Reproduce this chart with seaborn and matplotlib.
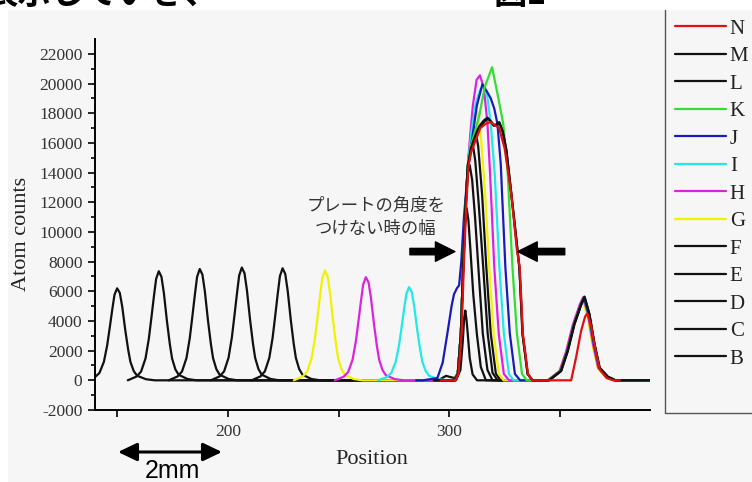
import matplotlib
matplotlib.use("Agg")
import matplotlib.pyplot as plt
from matplotlib.lines import Line2D
from matplotlib.patches import FancyArrowPatch, Rectangle
import pandas as pd
import seaborn as sns

# ---------------- data ----------------
series_names = ["B", "C", "D", "E", "F", "G", "H", "I", "J", "K", "L", "M", "N"]
series_colors = ["#111111", "#111111", "#111111", "#111111", "#111111", "#f2f200",
                 "#dd22dd", "#22e8e8", "#1a1ab8", "#33dd33", "#111111", "#111111", "#e01010"]
series_start = [140, 155, 173, 192, 210, 228, 246, 265, 285, 293, 293, 293, 296]
series_end = [340, 340, 340, 342, 345, 390.6, 390.6, 390.6, 390.6, 390.6, 390.6, 390.6, 377]

# isolated left peaks (series B..I)
side_series = ["B", "C", "D", "E", "F", "G", "H", "I"]
side_center = [150.0, 168.8, 187.3, 206.3, 224.7, 243.8, 262.3, 281.8]
side_height = [6200, 7350, 7500, 7600, 7550, 7400, 6950, 6280]
side_dx = [-14, -10, -8, -6, -4.5, -3.3, -2.2, -1.2, 0, 1.2, 2.3, 3.7, 5, 6, 7.5, 9, 13, 17]
side_ratio = [0, 0.035, 0.08, 0.2, 0.38, 0.58, 0.77, 0.93, 1, 0.95, 0.8, 0.54, 0.33, 0.2,
              0.1, 0.05, 0.012, 0]

# main cluster peaks (explicit points)
B_x = [303, 305, 306, 306.7, 307.2, 307.8, 308.3, 309.2, 310.5, 312.5]
B_y = [0, 700, 2500, 4200, 4700, 4000, 3150, 1500, 400, 0]
C_x = [302.5, 303.8, 305.2, 306.2, 307.1, 307.8, 308.6, 309.6, 310.8, 312.4, 314.2, 316.5]
C_y = [0, 430, 3150, 7600, 10500, 11600, 10800, 8600, 5800, 3150, 900, 0]
D_x = [295, 298.5, 301, 302.5, 303.8, 305.2, 306.2, 307.3, 308.4, 309.2, 310.3, 311.6, 313.1, 315.1, 317.2, 319.5]
D_y = [0, 300, 200, 150, 500, 3150, 7600, 11700, 14000, 14500, 13500, 11000, 7600, 3150, 700, 0]
E_x = [302.5, 303.8, 305.2, 306.2, 307.3, 308.3, 309.3, 310.5, 311.7, 313.2, 315.3, 317.3, 319.5, 321.8]
E_y = [0, 430, 3150, 7600, 11700, 14400, 15700, 16000, 14800, 12000, 7600, 3150, 500, 0]
F_x = [302.5, 303.8, 305.2, 306.2, 307.3, 308.3, 309.7, 311.5, 313, 314.8, 316.7, 318.7, 321, 323.2]
F_y = [0, 430, 3150, 7600, 11700, 14400, 16400, 17000, 15800, 12500, 7600, 3150, 450, 0]
G_x = [302.5, 303.8, 305.2, 306.2, 307.3, 308.3, 309.7, 311, 312.6, 314.2, 316.2, 318, 320, 322.3, 324.5]
G_y = [0, 430, 3150, 7600, 11700, 14400, 16650, 17700, 18100, 16500, 12500, 7600, 3150, 430, 0]
H_x = [302.5, 303.8, 305.2, 306.2, 307.3, 308.3, 309.5, 310.6, 312.3, 313.8, 315.6, 317.2, 318.4, 320.3, 322.3, 324.6, 327]
H_y = [0, 430, 3150, 7600, 11700, 14400, 16650, 18500, 20250, 20550, 19700, 17300, 13900, 7600, 3150, 430, 0]
I_x = [302.5, 303.8, 305.2, 306.2, 307.3, 308.3, 310, 312, 314, 315.4, 317, 318.7, 320.5, 322.6, 324.6, 326.9, 329]
I_y = [0, 430, 3150, 7600, 11700, 14400, 16800, 18700, 19600, 19800, 19300, 17300, 13900, 7600, 3150, 430, 0]
J_x = [288, 294.6, 297, 299.1, 301, 302.1, 303.4, 304.4, 305.4, 306.5, 307.8, 309, 310.8, 312.4, 314.9,
       316.8, 318.7, 320.3, 321.7, 323.2, 325.3, 327.3, 329.6, 332]
J_y = [0, 150, 1200, 3150, 5000, 5800, 6200, 6400, 8000, 10800, 13200, 15000, 16800, 18500, 19950,
       19500, 19000, 18300, 17300, 14600, 7600, 3150, 430, 0]
K_x = [302.5, 303.8, 305.2, 306.2, 307.3, 308.3, 309.7, 311.2, 313.4, 316, 319.3, 322, 324.3, 326.2,
       328.5, 330.5, 332.8, 335]
K_y = [0, 430, 3150, 7600, 11700, 14400, 15800, 16600, 17760, 19780, 21100, 19100, 17300, 14400,
       7600, 3150, 430, 0]
L_x = [302.5, 303.8, 305.2, 306.2, 307.3, 308.3, 309.7, 311.2, 313.4, 315.5, 317.2, 318.8, 320, 321.2,
       322.5, 324, 325.6, 327.5, 329.5, 331.6, 333, 335.3, 337.5]
L_y = [0, 430, 3150, 7600, 11700, 14400, 15600, 16300, 17100, 17500, 17700, 17450, 17200, 17250,
       17400, 16800, 15600, 13200, 10500, 7600, 3150, 430, 0]
M_x = [302.5, 303.9, 305.3, 306.3, 307.4, 308.4, 309.8, 311.3, 313.5, 315.6, 317.4, 318.9, 320.1, 321.4,
       322.7, 324.2, 325.8, 327.6, 329.6, 331.7, 333.1, 335.4, 337.6]
M_y = [0, 430, 3150, 7600, 11700, 14400, 15500, 16200, 17000, 17400, 17650, 17400, 17150, 17200,
       17350, 16700, 15500, 13100, 10400, 7500, 3100, 420, 0]
N_x = [302.8, 304.1, 305.5, 306.5, 307.6, 308.6, 309.9, 311.4, 314, 316.5, 318.5, 320.5, 322.5, 325,
       328, 330.5, 331.8, 333.2, 335.5, 337.5]
N_y = [0, 430, 3150, 7600, 11700, 14400, 15400, 16000, 17000, 17300, 17400, 17200, 17000, 15600,
       12500, 8800, 7600, 3150, 430, 0]
cluster_x = [B_x, C_x, D_x, E_x, F_x, G_x, H_x, I_x, J_x, K_x, L_x, M_x, N_x]
cluster_y = [B_y, C_y, D_y, E_y, F_y, G_y, H_y, I_y, J_y, K_y, L_y, M_y, N_y]

# right peak near 361
right_series = ["G", "H", "I", "J", "K", "L", "M"]
right_center = [360.2, 360.4, 360.8, 360.8, 361.0, 361.0, 361.1]
right_height = [5400, 5600, 5500, 5550, 5650, 5630, 5600]
right_dx = [-16, -10.6, -7.6, -4.6, -1.5, 0, 2.2, 4.5, 6.8, 10.5, 14]
right_ratio = [0, 0.112, 0.352, 0.673, 0.913, 1, 0.792, 0.432, 0.151, 0.043, 0]
N_right_x = [355, 357.2, 359.5, 361.3, 362.3, 364, 366, 368, 371, 374]
N_right_y = [0, 1530, 3330, 4300, 4500, 3700, 2000, 700, 150, 0]

# ticks
x_ticks = [150, 200, 250, 300, 350]
x_tick_labels = ["", "200", "", "300", ""]
y_ticks = list(range(-2000, 22001, 2000))

# ---------------- build long table ----------------
rows = []
for i, s in enumerate(series_names):
    pts = []
    if s in side_series:
        k = side_series.index(s)
        for dx, r in zip(side_dx, side_ratio):
            pts.append((side_center[k] + dx, side_height[k] * r))
    else:
        pts.append((series_start[i], 0))
    pts += list(zip(cluster_x[i], cluster_y[i]))
    if s in right_series:
        k = right_series.index(s)
        for dx, r in zip(right_dx, right_ratio):
            pts.append((right_center[k] + dx, right_height[k] * r))
    if s == "N":
        pts += list(zip(N_right_x, N_right_y))
    pts.append((series_end[i], 0))
    for x, y in pts:
        rows.append({"series": s, "Position": x, "Atom counts": y})
df = pd.DataFrame(rows)

# ---------------- figure ----------------
sns.set_theme(style="ticks")
plt.rcParams["axes.unicode_minus"] = False
W, H = 752, 482
fig = plt.figure(figsize=(W / 100, H / 100), dpi=100)
fig.patch.set_facecolor("white")
fig.add_artist(Rectangle((8 / W, 0), (W - 8) / W, (H - 10) / H, transform=fig.transFigure,
                         facecolor="#f6f6f6", edgecolor="none", zorder=-10))

ax = fig.add_axes([95 / W, 1 - 410 / H, 555 / W, 371 / H])
ax.patch.set_alpha(0)

palette = dict(zip(series_names, series_colors))
sns.lineplot(data=df, x="Position", y="Atom counts", hue="series", hue_order=series_names,
             palette=palette, sort=False, estimator=None, linewidth=1.6, ax=ax, legend=False)

ax.set_xlim(140, 390.6)
ax.set_ylim(-2000, 23000)
ax.set_xticks(x_ticks)
ax.set_xticklabels(x_tick_labels)
ax.set_yticks(y_ticks)
ax.set_yticklabels([str(v) for v in y_ticks])
ax.set_yticks(list(range(-1000, 23000, 2000)), minor=True)
for sp in ["top", "right"]:
    ax.spines[sp].set_visible(False)
for sp in ["left", "bottom"]:
    ax.spines[sp].set_linewidth(1.4)
    ax.spines[sp].set_color("black")
ax.tick_params(axis="both", which="major", length=5, width=1.2, color="black",
               labelsize=12.5, labelcolor="#333333")
ax.tick_params(axis="y", which="major", pad=4)
ax.tick_params(axis="x", which="major", pad=5)
ax.tick_params(axis="y", which="minor", length=3, width=1.2, color="black")
for lab in ax.get_xticklabels() + ax.get_yticklabels():
    lab.set_family("Liberation Serif")

ax.set_xlabel("Position", family="Liberation Serif", fontsize=16, color="#222222")
ax.set_ylabel("Atom counts", family="Liberation Serif", fontsize=16, color="#222222")
ax.xaxis.label.set_va("center")
ax.yaxis.label.set_va("center")
ax.xaxis.set_label_coords(0.499, -50 / 371)
ax.yaxis.set_label_coords((21.5 - 95) / 555, (410 - 234) / 371)

# annotation text + arrows
jp = ["Noto Sans CJK JP", "DejaVu Sans"]
ax.text(266.8, 11785, "プレートの角度を", family=jp, fontsize=12.5, color="#333333",
        ha="center", va="center")
ax.text(266.8, 10230, "つけない時の幅", family=jp, fontsize=12.5, color="#333333",
        ha="center", va="center")
for tail, tip in [((282.2, 8675), (302.5, 8675)), ((352.1, 8675), (330.9, 8675))]:
    ax.add_patch(FancyArrowPatch(tail, tip, arrowstyle="simple,head_length=14,head_width=14,tail_width=4.6",
                                 mutation_scale=1, color="black", shrinkA=0, shrinkB=0, zorder=5))

# 2mm scale arrow below axes
fig.add_artist(FancyArrowPatch((118 / W, 30 / H), (222 / W, 30 / H), transform=fig.transFigure,
                               arrowstyle="<|-|>,head_length=11.5,head_width=5.5", mutation_scale=1,
                               color="black", linewidth=2.2, shrinkA=0, shrinkB=0))
fig.text(172 / W, 4 / H, "2mm", family="Liberation Sans", fontsize=18, color="black",
         ha="center", va="baseline")

# page text at the very top (cut by the picture's edge, as in the reference)
fig.text(-16 / W, 1 - 4 / H, "表示していき、", family=jp, fontsize=24, weight="bold",
         color="black", ha="left", va="baseline")
fig.text(494 / W, 1 - 4 / H, "図1", family=jp, fontsize=24, weight="bold",
         color="black", ha="left", va="baseline")

# legend (box partly outside the picture)
handles = [Line2D([], [], color=palette[s], linewidth=1.6) for s in reversed(series_names)]
labels = list(reversed(series_names))
leg = ax.legend(handles, labels, loc="upper left", bbox_to_anchor=(675 / W, 1 - 19 / H),
                bbox_transform=fig.transFigure, frameon=False, borderpad=0, borderaxespad=0,
                handlelength=2.45, handletextpad=0.18, labelspacing=0.38,
                prop={"family": "Liberation Serif", "size": 15})
for t in leg.get_texts():
    t.set_color("#222222")
fig.add_artist(Line2D([665 / W, 665 / W], [1 - 10 / H, 1 - 413 / H], transform=fig.transFigure,
                      color="#555555", linewidth=1.0))
fig.add_artist(Line2D([665 / W, 1.0], [1 - 413 / H, 1 - 413 / H], transform=fig.transFigure,
                      color="#555555", linewidth=1.0))

fig.savefig("out.png", dpi=100)
